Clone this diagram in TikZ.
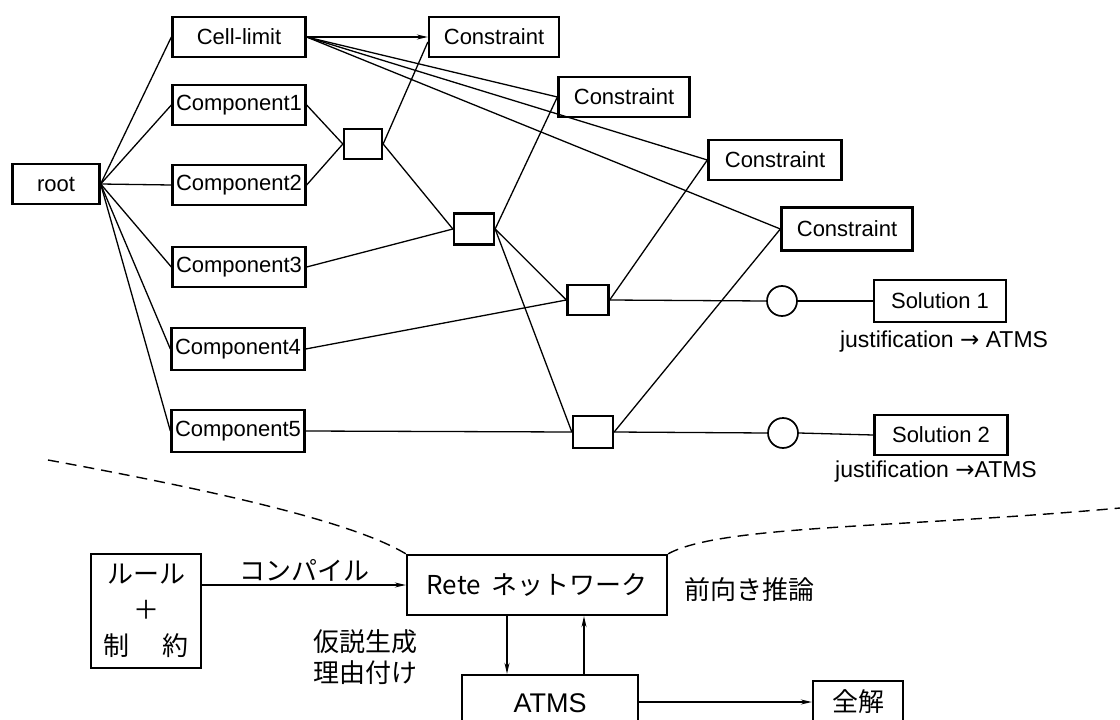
\documentclass[tikz,border=0pt]{standalone}
\usepackage{fontspec}
\setmainfont{Liberation Sans}
\newfontfamily\jpfont{Noto Sans CJK JP}
\newfontfamily\symfont{DejaVu Sans}
\usetikzlibrary{arrows.meta,positioning}
\tikzset{
	box/.style={draw, line width=2.3pt, minimum height=40pt, inner sep=0pt, font=\fontsize{22}{26}\selectfont},
	junc/.style={draw, line width=2.3pt, minimum width=40pt, minimum height=31pt, inner sep=0pt},
	ring/.style={draw, circle, line width=1.7pt, minimum size=30pt, inner sep=0pt},
	link/.style={line width=1.3pt},
	arr/.style={line width=1.3pt, -{Stealth[length=11pt,width=5pt]}},
	jptext/.style={font=\jpfont\fontsize{26}{32}\selectfont, inner sep=1pt},
	note/.style={font=\fontsize{23}{27}\selectfont, inner sep=0pt},
	divider/.style={line width=1.4pt, dash pattern=on 11pt off 7pt},
}

\begin{document}
\begin{tikzpicture}[x=1pt, y=-1pt]
		%%%%% START %%%%%
		\useasboundingbox (0,0) rectangle (1120,720);
		
		% rete network
		\node[box, minimum width=87pt] (root) at (56,184) {root};
		\node[box, minimum width=133pt] (cell) at (239,37) {Cell-limit};
		\node[box, minimum width=133pt] (comp1) at (239,105) {Component1};
		\node[box, minimum width=133pt] (comp2) at (239,185) {Component2};
		\node[box, minimum width=133pt] (comp3) at (239,267) {Component3};
		\node[box, minimum width=133pt, minimum height=42pt] (comp4) at (238,349) {Component4};
		\node[box, minimum width=133pt, minimum height=42pt] (comp5) at (238,431) {Component5};
		
		\node[box, minimum width=130pt] (con1) at (494,37) {Constraint};
		\node[box, minimum width=131pt] (con2) at (624,97) {Constraint};
		\node[box, minimum width=133pt] (con3) at (775,160) {Constraint};
		\node[box, minimum width=131pt, minimum height=43pt] (con4) at (847,229) {Constraint};
		
		\node[junc, minimum width=38pt, minimum height=30pt] (j1) at (363,144) {};
		\node[junc] (j2) at (474,229) {};
		\node[junc, minimum width=41pt, minimum height=30pt] (j3) at (588,300) {};
		\node[junc, minimum height=32pt] (j4) at (593,432) {};
		
		\node[ring] (o1) at (782,301) {};
		\node[ring] (o2) at (783,433) {};
		
		\node[box, minimum width=132pt, minimum height=42pt] (sol1) at (940,301) {Solution 1};
		\node[box, minimum width=133pt] (sol2) at (941,435) {Solution 2};
		\node[note] (just1) at (944,342) {justification {\symfont →} ATMS};
		\node[note] (just2) at (936,472) {justification {\symfont →}ATMS};
		
		\draw[link] (root.east) -- (cell.west);
		\draw[link] (root.east) -- (comp1.west);
		\draw[link] (root.east) -- (comp2.west);
		\draw[link] (root.east) -- (comp3.west);
		\draw[link] (root.east) -- (comp4.west);
		\draw[link] (root.east) -- (comp5.west);
		
		\draw[arr] (cell.east) -- (con1.west);
		\draw[link] (cell.east) -- (con2.west);
		\draw[link] (cell.east) -- (con3.west);
		\draw[link] (cell.east) -- (con4.west);
		
		\draw[link] (comp1.east) -- (j1.west);
		\draw[link] (comp2.east) -- (j1.west);
		\draw[link] (j1.east) -- ([yshift=-5pt]con1.west);
		\draw[link] (j1.east) -- (j2.west);
		
		\draw[link] (comp3.east) -- (j2.west);
		\draw[link] (j2.east) -- (con2.west);
		\draw[link] (j2.east) -- (j3.west);
		\draw[link] (j2.east) -- (j4.west);
		
		\draw[link] (comp4.east) -- (j3.west);
		\draw[link] (j3.east) -- (con3.west);
		\draw[link] (j3.east) -- (o1.west);
		\draw[link] (o1.east) -- (sol1.west);
		
		\draw[link] (comp5.east) -- (j4.west);
		\draw[link] (j4.east) -- (con4.west);
		\draw[link] (j4.east) -- (o2.west);
		\draw[link] (o2.east) -- (sol2.west);
		
		% system overview
		\node[draw, line width=2.3pt, minimum width=110pt, minimum height=114pt, align=center, jptext, font=\jpfont\fontsize{26}{36}\selectfont] (rule) at (146,611) {ルール\\＋\\制\hspace{1.3em}約};
		\node[box, jptext, minimum width=260pt, minimum height=60pt] (rete) at (537,585) {Rete\hspace{0.4em}ネットワーク};
		\node[box, minimum width=176pt, minimum height=56pt, font=\fontsize{27}{31}\selectfont] (atms) at (550,703) {ATMS};
		\node[box, jptext, minimum width=90pt, minimum height=42pt] (all) at (858,702) {全解};
		
		\node[jptext, right=15pt of rete, yshift=-5pt] (fwd) {前向き推論};
		\node[jptext, align=center, font=\jpfont\fontsize{26}{31}\selectfont] (hyp) at (365,657) {仮説生成\\理由付け};
		
		\draw[arr] (rule.east |- rete.west) -- (rete.west) node[midway, above=2pt, jptext] (comp) {コンパイル};
		\draw[arr] ([xshift=-30pt]rete.south) -- ([xshift=-30pt]rete.south |- atms.north);
		\draw[arr] ([xshift=47pt]rete.south |- atms.north) -- ([xshift=47pt]rete.south);
		\draw[arr] (atms.east |- all.west) -- (all.west);
		
		\draw[divider] (48,460) .. controls (200,488) and (350,520) .. (rete.north west);
		\draw[divider] (rete.north east) .. controls (720,525) and (900,528) .. (1120,508);
		
		%%%%% END %%%%%
\end{tikzpicture}
\end{document}
